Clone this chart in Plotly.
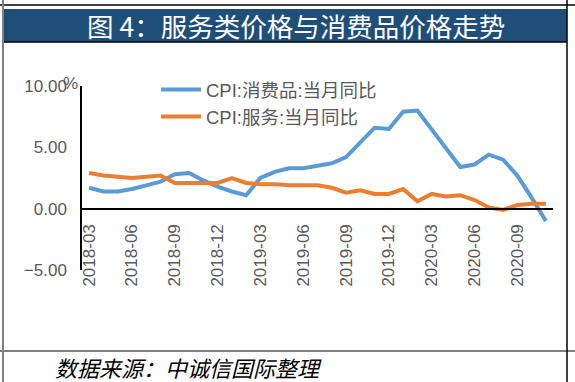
import plotly.graph_objects as go

months = ["2018-03","2018-04","2018-05","2018-06","2018-07","2018-08","2018-09","2018-10","2018-11","2018-12",
          "2019-01","2019-02","2019-03","2019-04","2019-05","2019-06","2019-07","2019-08","2019-09","2019-10",
          "2019-11","2019-12","2020-01","2020-02","2020-03","2020-04","2020-05","2020-06","2020-07","2020-08",
          "2020-09","2020-10","2020-11"]
consumer = [1.7, 1.4, 1.4, 1.6, 1.9, 2.2, 2.8, 2.9, 2.3, 1.8,
            1.4, 1.1, 2.5, 3.0, 3.3, 3.3, 3.5, 3.7, 4.2, 5.4,
            6.6, 6.5, 7.9, 8.0, 6.5, 4.9, 3.4, 3.6, 4.4, 4.0,
            2.7, 0.9, -1.0]
services = [2.9, 2.7, 2.6, 2.5, 2.6, 2.7, 2.1, 2.1, 2.1, 2.1,
            2.5, 2.1, 2.0, 2.0, 1.9, 1.9, 1.9, 1.7, 1.3, 1.5,
            1.2, 1.2, 1.6, 0.6, 1.2, 1.0, 1.1, 0.7, 0.1, -0.1,
            0.3, 0.4, 0.4]
tick_labels = months[::3]
series_names = ["CPI:消费品:当月同比", "CPI:服务:当月同比"]
title_text = "图 4：服务类价格与消费品价格走势"
source_text = "数据来源：中诚信国际整理"

W, H = 575, 382
L, R, T, B = 82, 553, 86, 270

def px(x):
    return (x - L) / (R - L)

def py(y):
    return 1 - (y - T) / (B - T)

fig = go.Figure()
fig.add_trace(go.Scatter(x=months, y=consumer, mode="lines", name=series_names[0],
                         line=dict(color="#5B9BD5", width=4)))
fig.add_trace(go.Scatter(x=months, y=services, mode="lines", name=series_names[1],
                         line=dict(color="#ED7D31", width=4)))

grey = "#595959"
fig.update_layout(
    width=W, height=H,
    margin=dict(l=L, r=W - R, t=T, b=H - B),
    paper_bgcolor="white", plot_bgcolor="white",
    font=dict(family="Liberation Sans, Noto Sans CJK SC", color=grey),
    showlegend=True,
    legend=dict(x=px(156), y=py(71), xanchor="left", yanchor="top",
                bgcolor="rgba(0,0,0,0)", font=dict(size=18.5, color=grey,
                family="Liberation Sans, Noto Sans CJK SC"),
                itemwidth=40, tracegroupgap=0),
    xaxis=dict(type="category", range=[-0.5, len(months) - 0.5],
               tickmode="array", tickvals=tick_labels, ticktext=tick_labels,
               tickangle=-90, tickfont=dict(size=17, color=grey),
               showline=True, linecolor="black", linewidth=1.5,
               ticks="", showgrid=False, zeroline=False,
               anchor="free", position=1/3, ticklabelstandoff=8),
    yaxis=dict(range=[-5, 10], dtick=5, tickformat=".2f",
               tickfont=dict(size=17, color=grey),
               showline=True, linecolor="black", linewidth=1.5,
               ticks="", showgrid=False, zeroline=False, ticklabelstandoff=10),
)

shapes = []
shapes.append(dict(type="rect", xref="paper", yref="paper",
                   x0=px(3), x1=px(567), y0=py(42), y1=py(9),
                   fillcolor="#1F4E79", line=dict(width=0), layer="below"))
shapes.append(dict(type="line", xref="paper", yref="paper", x0=px(0), x1=px(575), y0=py(5), y1=py(5),
                   line=dict(color="black", width=1.5)))
shapes.append(dict(type="line", xref="paper", yref="paper", x0=px(3), x1=px(567), y0=py(42), y1=py(42),
                   line=dict(color="black", width=1.5)))
shapes.append(dict(type="line", xref="paper", yref="paper", x0=px(0), x1=px(575), y0=py(351), y1=py(351),
                   line=dict(color="#555555", width=1.5)))
shapes.append(dict(type="line", xref="paper", yref="paper", x0=px(3), x1=px(3), y0=py(0), y1=py(382),
                   line=dict(color="#808080", width=2)))
shapes.append(dict(type="line", xref="paper", yref="paper", x0=px(567), x1=px(567), y0=py(0), y1=py(382),
                   line=dict(color="black", width=1.5)))
fig.update_layout(shapes=shapes)

fig.add_annotation(text=title_text, xref="paper", yref="paper", x=px(296), y=py(26),
                   xanchor="center", yanchor="middle", showarrow=False,
                   font=dict(size=26.5, color="white", family="Noto Sans CJK SC"))
fig.add_annotation(text="%", xref="paper", yref="paper", x=px(61), y=py(83),
                   xanchor="left", yanchor="middle", showarrow=False,
                   font=dict(size=17, color=grey))
fig.add_annotation(text="<i>" + source_text + "</i>", xref="paper", yref="paper", x=px(53), y=py(367),
                   xanchor="left", yanchor="middle", showarrow=False,
                   font=dict(size=22, color="black", family="Noto Sans CJK SC"))

fig.write_html("out.html", config={"displayModeBar": False},
               post_script="document.body.style.margin='0';")
